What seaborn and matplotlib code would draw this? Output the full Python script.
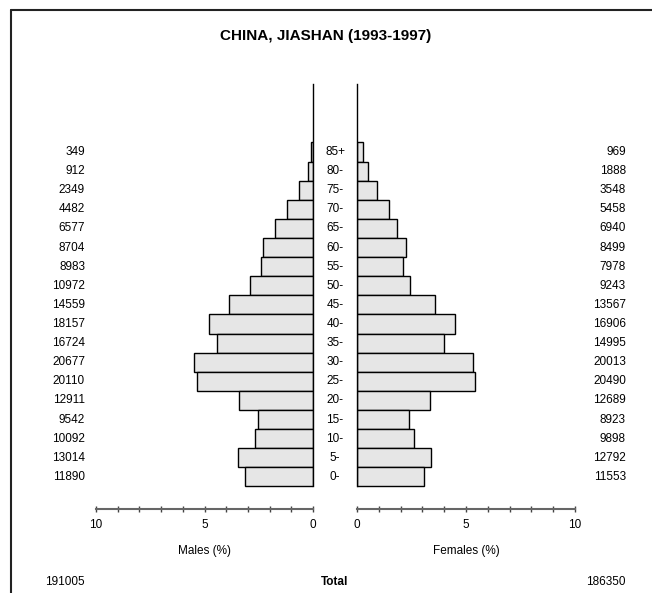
import matplotlib
matplotlib.use("Agg")
import matplotlib.pyplot as plt
import matplotlib.transforms as mtransforms
from matplotlib.lines import Line2D
import pandas as pd
import seaborn as sns

# Population of Jiashan county by five-year age group (bottom to top)
age_groups = ["0-", "5-", "10-", "15-", "20-", "25-", "30-", "35-", "40-",
              "45-", "50-", "55-", "60-", "65-", "70-", "75-", "80-", "85+"]
male_counts = [11890, 13014, 10092, 9542, 12911, 20110, 20677, 16724, 18157,
               14559, 10972, 8983, 8704, 6577, 4482, 2349, 912, 349]
female_counts = [11553, 12792, 9898, 8923, 12689, 20490, 20013, 14995, 16906,
                 13567, 9243, 7978, 8499, 6940, 5458, 3548, 1888, 969]
male_total = 191005
female_total = 186350
title = "CHINA, JIASHAN (1993-1997)"
tick_values = list(range(11))
tick_labels = ["0", "", "", "", "", "5", "", "", "", "", "10"]

sns.set_style("white")
plt.rcParams["font.family"] = ["Liberation Sans", "DejaVu Sans"]
plt.rcParams["text.color"] = "black"

FS = 8.5

grand_total = male_total + female_total
df = pd.DataFrame({
    "age": age_groups,
    "male_pct": [c / grand_total * 100 for c in male_counts],
    "female_pct": [c / grand_total * 100 for c in female_counts],
})
order = age_groups[::-1]  # oldest group at the top

W, H = 652, 593
fig = plt.figure(figsize=(W / 100, H / 100), dpi=100)


def fx(px):
    return px / W


def fy(py):
    return 1 - py / H


ax_bottom, ax_top = 509, 84
axm = fig.add_axes([fx(96), fy(ax_bottom), fx(313) - fx(96), fy(ax_top) - fy(ax_bottom)])
axf = fig.add_axes([fx(357), fy(ax_bottom), fx(575) - fx(357), fy(ax_top) - fy(ax_bottom)])

bar_kw = dict(y="age", order=order, color="#e6e6e6", edgecolor="black",
              linewidth=1.0, width=1.0, saturation=1, orient="h")
sns.barplot(data=df, x="male_pct", ax=axm, **bar_kw)
sns.barplot(data=df, x="female_pct", ax=axf, **bar_kw)

n = len(age_groups)
y_low, y_high = n - 0.5 + 1.18, -0.5 - 3.06
for ax, side in ((axm, "right"), (axf, "left")):
    ax.set_ylim(y_low, y_high)
    ax.set_yticks([])
    ax.set_xlabel("")
    ax.set_ylabel("")
    for s in ("top", "left", "right"):
        ax.spines[s].set_visible(False)
    ax.spines[side].set_visible(True)
    ax.spines[side].set_color("black")
    ax.spines[side].set_linewidth(1.0)
    ax.spines[side].set_bounds(n - 0.5, y_high)
    ax.spines["bottom"].set_bounds(0, 10)
    ax.spines["bottom"].set_color("#666666")
    ax.spines["bottom"].set_linewidth(1.5)
    ax.set_xticks(tick_values)
    ax.set_xticklabels(tick_labels)
    ax.tick_params(axis="x", bottom=True, direction="inout", length=5, width=1,
                   color="#444444", pad=5, labelsize=FS, labelcolor="black")
    ax.set_facecolor("none")

axm.set_xlim(10, 0)
axf.set_xlim(0, 10)

# Age labels and counts beside each row
row_tr = mtransforms.blended_transform_factory(fig.transFigure, axm.transData)
for i, age in enumerate(order):
    idx = age_groups.index(age)
    axm.text(fx(335), i, age, transform=row_tr, ha="center", va="center", fontsize=FS)
    axm.text(fx(85), i, f"{male_counts[idx]}", transform=row_tr,
             ha="right", va="center", fontsize=FS)
    axm.text(fx(626), i, f"{female_counts[idx]}", transform=row_tr,
             ha="right", va="center", fontsize=FS)

fig.text(fx(326), fy(36), title, ha="center", va="center",
         fontsize=11, fontweight="bold")
fig.text(fx(204.5), fy(551), "Males (%)", ha="center", va="center", fontsize=FS)
fig.text(fx(466), fy(551), "Females (%)", ha="center", va="center", fontsize=FS)
fig.text(fx(85), fy(582), f"{male_total}", ha="right", va="center", fontsize=FS)
fig.text(fx(335), fy(582), "Total", ha="center", va="center",
         fontsize=FS, fontweight="bold")
fig.text(fx(626), fy(582), f"{female_total}", ha="right", va="center", fontsize=FS)

# Frame along the top and left edges
fig.add_artist(Line2D([fx(11), 1], [fy(10), fy(10)], transform=fig.transFigure,
                      color="#222222", linewidth=1.5))
fig.add_artist(Line2D([fx(11), fx(11)], [fy(10), 0], transform=fig.transFigure,
                      color="#222222", linewidth=1.5))

fig.savefig("out.png", dpi=100)
